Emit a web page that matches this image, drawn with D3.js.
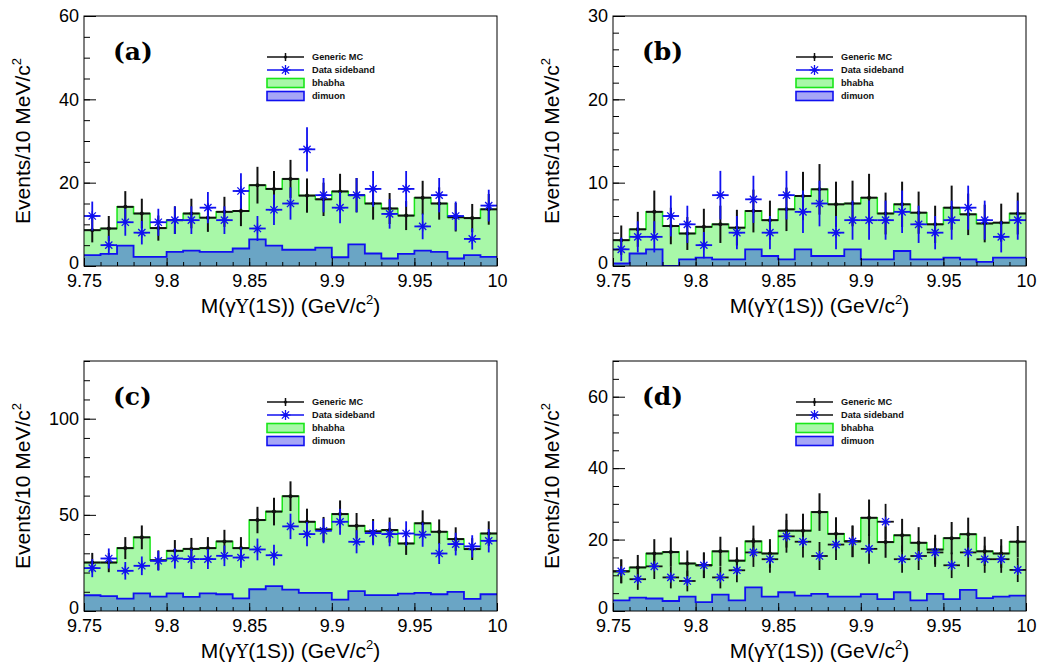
<!DOCTYPE html>
<html>
<head>
<meta charset="utf-8">
<script src="https://cdn.jsdelivr.net/npm/d3@7"></script>
<style>
  body { margin: 0; background: #fff; }
  svg text { font-family: "Liberation Sans", Arial, Helvetica, sans-serif; }
</style>
</head>
<body>
<svg id="chart" width="1038" height="666"></svg>
<script>
// bin edges of M(gamma Y(1S)), 10 MeV bins
var BIN_EDGES = [9.75, 9.76, 9.77, 9.78, 9.79, 9.80, 9.81, 9.82, 9.83, 9.84, 9.85, 9.86, 9.87,
  9.88, 9.89, 9.90, 9.91, 9.92, 9.93, 9.94, 9.95, 9.96, 9.97, 9.98, 9.99, 10.00];
var X_TICKS = [9.75, 9.8, 9.85, 9.9, 9.95, 10];
var X_TICK_LABELS = ['9.75', '9.8', '9.85', '9.9', '9.95', '10'];

var PANEL_LABELS = ['(a)', '(b)', '(c)', '(d)'];
var LEGEND_LABELS = ['Generic MC', 'Data sideband', 'bhabha', 'dimuon'];

// (a)
var MC_A = [8.6, 9.0, 14.2, 12.6, 9.1, 11.0, 12.6, 11.6, 13.0, 13.2, 19.4, 18.5, 20.9, 16.9, 16.0, 17.9, 17.0, 15.0, 13.8, 12.1, 16.4, 15.0, 11.7, 11.5, 13.6];
var DATA_A = [12.0, 5.0, 10.5, 8.0, 10.5, 11.0, 11.0, 14.0, 11.0, 18.0, 9.0, 13.5, 15.0, 28.0, 17.0, 14.0, 17.0, 18.5, 12.5, 18.5, 9.5, 17.0, 12.0, 6.5, 14.5];
var DIMUON_A = [2.6, 2.9, 4.9, 2.2, 2.2, 3.4, 3.7, 3.4, 3.4, 4.2, 6.4, 4.9, 3.9, 3.9, 4.4, 2.1, 5.2, 3.0, 1.8, 2.9, 3.7, 3.4, 1.8, 2.6, 2.2];
var Y_TICKS_A = [0, 20, 40, 60];

// (b)
var MC_B = [3.1, 4.4, 6.5, 4.8, 3.9, 4.7, 5.0, 4.6, 6.6, 5.5, 6.8, 8.4, 9.2, 7.4, 7.5, 8.2, 6.3, 7.4, 6.4, 5.0, 7.0, 6.2, 5.1, 5.2, 6.3];
var DATA_B = [2.0, 3.5, 3.5, 6.0, 5.0, 2.5, 8.5, 4.0, 8.0, 4.0, 8.5, 6.5, 7.5, 4.0, 5.5, 5.5, 5.5, 6.5, 5.0, 4.0, 5.5, 7.0, 5.5, 3.5, 5.5];
var DIMUON_B = [0.3, 1.5, 2.0, 0, 0.8, 1.0, 0.8, 0.8, 2.0, 1.2, 0.8, 2.0, 1.2, 1.2, 2.0, 0.8, 0.8, 1.8, 0.8, 0.8, 1.0, 0.8, 0.5, 1.0, 1.0];
var Y_TICKS_B = [0, 10, 20, 30];

// (c)
var MC_C = [25.2, 25.2, 32.7, 38.3, 26.4, 31.3, 32.3, 32.7, 36.2, 32.7, 47.3, 51.7, 59.7, 46.4, 42.4, 50.4, 44.3, 41.4, 42.1, 35.1, 45.6, 41.2, 37.4, 32.2, 40.3];
var DATA_C = [22.3, 27.3, 20.9, 23.5, 26.1, 27.3, 27.0, 27.0, 28.7, 27.8, 32.0, 29.0, 44.0, 40.0, 41.7, 46.4, 36.0, 40.5, 40.0, 40.3, 39.7, 29.9, 34.8, 33.6, 36.5];
var DIMUON_C = [8.2, 7.7, 6.4, 9.2, 7.5, 9.2, 7.3, 9.2, 8.7, 6.6, 11.3, 12.9, 11.1, 9.4, 9.4, 5.9, 10.3, 8.3, 8.3, 9.0, 9.4, 8.7, 9.9, 6.3, 8.7];
var Y_TICKS_C = [0, 50, 100];

// (d)
var MC_D = [11.1, 12.2, 16.1, 16.5, 13.3, 12.8, 16.7, 14.1, 19.5, 16.1, 22.5, 22.5, 27.7, 21.6, 19.5, 26.1, 19.3, 21.2, 19.1, 17.2, 20.4, 21.5, 16.7, 16.1, 19.4];
var DATA_D = [11.1, 8.9, 12.5, 9.4, 8.4, 12.8, 9.4, 11.4, 16.4, 14.5, 20.9, 19.4, 15.4, 18.6, 19.5, 17.4, 25.0, 14.5, 15.4, 16.4, 12.8, 16.4, 14.5, 14.5, 11.5];
var DIMUON_D = [3.0, 3.75, 3.5, 2.8, 4.0, 2.5, 4.6, 3.0, 6.6, 4.0, 5.25, 4.3, 4.8, 4.0, 4.0, 4.7, 3.3, 5.25, 3.0, 4.8, 3.3, 5.9, 3.6, 4.0, 4.3];
var Y_TICKS_D = [0, 20, 40, 60];

var Y_MAX = [60, 30, 130, 70];
var Y_MINOR_STEP = [5, 2, 10, 5];

var GREEN_FILL = '#a8f8a8';
var GREEN_LINE = '#19e619';
var DIMUON_FILL = '#6aa5c5';
var DIMUON_LEGEND_FILL = '#a6a6f6';
var BLUE = '#1010f0';
var SERIF = '"DejaVu Serif", "Liberation Serif", serif';

var WIDTH = 413;
var HEIGHT = 250;

var panels = [
  { i: 0, left: 84, top: 16, mc: MC_A, data: DATA_A, dimuon: DIMUON_A, yTicks: Y_TICKS_A, dataBar: BLUE },
  { i: 1, left: 613, top: 16, mc: MC_B, data: DATA_B, dimuon: DIMUON_B, yTicks: Y_TICKS_B, dataBar: BLUE },
  { i: 2, left: 84, top: 361, mc: MC_C, data: DATA_C, dimuon: DIMUON_C, yTicks: Y_TICKS_C, dataBar: BLUE },
  { i: 3, left: 613, top: 361, mc: MC_D, data: DATA_D, dimuon: DIMUON_D, yTicks: Y_TICKS_D, dataBar: '#111' }
];

var $svg = d3.select('#chart');

function toBins (values) {
  return values.map(function (v, i) {
    return { x0: BIN_EDGES[i], x1: BIN_EDGES[i + 1], v: v, err: Math.sqrt(v) }; // poisson errors
  });
}

function stepPoints (values) {
  return BIN_EDGES.map(function (e, i) {
    return [e, values[Math.min(i, values.length - 1)]];
  });
}

function drawStar ($g, cx, cy, color) {
  var s = 5;
  var d = s * 0.72;
  var star = $g.append('g').attr('stroke', color).attr('stroke-width', 1.3);
  star.append('line').attr('x1', cx - s).attr('x2', cx + s).attr('y1', cy).attr('y2', cy);
  star.append('line').attr('x1', cx).attr('x2', cx).attr('y1', cy - s).attr('y2', cy + s);
  star.append('line').attr('x1', cx - d).attr('x2', cx + d).attr('y1', cy - d).attr('y2', cy + d);
  star.append('line').attr('x1', cx - d).attr('x2', cx + d).attr('y1', cy + d).attr('y2', cy - d);
  $g.append('circle').attr('cx', cx).attr('cy', cy).attr('r', 2).attr('fill', color);
}

function drawPanel (p) {
  var yMax = Y_MAX[p.i];
  var x = d3.scaleLinear().domain([BIN_EDGES[0], BIN_EDGES[BIN_EDGES.length - 1]]).range([0, WIDTH]);
  var y = d3.scaleLinear().domain([0, yMax]).range([HEIGHT, 0]);
  var clipId = 'clip' + p.i;

  var $g = $svg.append('g').attr('transform', 'translate(' + p.left + ',' + p.top + ')');
  $g.append('clipPath').attr('id', clipId)
    .append('rect').attr('width', WIDTH).attr('height', HEIGHT);
  var $plot = $g.append('g').attr('clip-path', 'url(#' + clipId + ')');

  var area = d3.area().curve(d3.curveStepAfter)
    .x(function (d) { return x(d[0]); })
    .y0(y(0))
    .y1(function (d) { return y(d[1]); });
  var line = d3.line().curve(d3.curveStepAfter)
    .x(function (d) { return x(d[0]); })
    .y(function (d) { return y(d[1]); });

  // stacked histograms: bhabha on top of dimuon
  $plot.append('path').attr('d', area(stepPoints(p.mc))).attr('fill', GREEN_FILL);
  $plot.append('path').attr('d', line(stepPoints(p.mc)))
    .attr('fill', 'none').attr('stroke', GREEN_LINE).attr('stroke-width', 1.5);
  $plot.append('path').attr('d', area(stepPoints(p.dimuon))).attr('fill', DIMUON_FILL);
  $plot.append('path').attr('d', line(stepPoints(p.dimuon)))
    .attr('fill', 'none').attr('stroke', BLUE).attr('stroke-width', 1.8);

  // generic MC points
  var $mc = $plot.append('g').attr('stroke', '#111').attr('stroke-width', 2);
  toBins(p.mc).forEach(function (b) {
    var cx = x((b.x0 + b.x1) / 2);
    $mc.append('line').attr('x1', x(b.x0)).attr('x2', x(b.x1)).attr('y1', y(b.v)).attr('y2', y(b.v));
    $mc.append('line').attr('x1', cx).attr('x2', cx)
      .attr('y1', y(Math.max(0, b.v - b.err))).attr('y2', y(b.v + b.err));
    $mc.append('circle').attr('cx', cx).attr('cy', y(b.v)).attr('r', 2).attr('fill', '#111').attr('stroke', 'none');
  });

  // data sideband points
  var $data = $plot.append('g');
  toBins(p.data).forEach(function (b) {
    var cx = x((b.x0 + b.x1) / 2);
    $data.append('line').attr('x1', x(b.x0)).attr('x2', x(b.x1)).attr('y1', y(b.v)).attr('y2', y(b.v))
      .attr('stroke', p.dataBar).attr('stroke-width', 1.8);
    $data.append('line').attr('x1', cx).attr('x2', cx)
      .attr('y1', y(Math.max(0, b.v - b.err))).attr('y2', y(b.v + b.err))
      .attr('stroke', p.dataBar).attr('stroke-width', 1.8);
    drawStar($data, cx, y(b.v), BLUE);
  });

  // axes, ticks pointing inwards
  var minorY = d3.range(0, yMax + 0.001, Y_MINOR_STEP[p.i]);
  var $xMinor = $g.append('g').attr('transform', 'translate(0,' + HEIGHT + ')')
    .call(d3.axisBottom(x).tickValues(BIN_EDGES).tickSizeInner(-4).tickSizeOuter(0).tickFormat(''));
  var $xMajor = $g.append('g').attr('transform', 'translate(0,' + HEIGHT + ')')
    .call(d3.axisBottom(x).tickValues(X_TICKS).tickSizeInner(-8).tickSizeOuter(0).tickPadding(8)
      .tickFormat(function (d, i) { return X_TICK_LABELS[i]; }));
  var $yMinor = $g.append('g')
    .call(d3.axisLeft(y).tickValues(minorY).tickSizeInner(-6).tickSizeOuter(0).tickFormat(''));
  var $yMajor = $g.append('g')
    .call(d3.axisLeft(y).tickValues(p.yTicks).tickSizeInner(-12).tickSizeOuter(0).tickPadding(5)
      .tickFormat(d3.format('d')));
  [$xMinor, $xMajor, $yMinor, $yMajor].forEach(function ($a) {
    $a.select('.domain').remove();
    $a.selectAll('line').attr('stroke', '#000');
    $a.selectAll('text').attr('font-size', 18).attr('fill', '#000')
      .style('font-family', '"Liberation Sans", Arial, sans-serif');
  });
  // lift the bottom "0" a touch so it clears the x labels
  $yMajor.selectAll('.tick').filter(function (d) { return d === 0; })
    .select('text').attr('dy', '0.12em');

  $g.append('rect').attr('width', WIDTH).attr('height', HEIGHT)
    .attr('fill', 'none').attr('stroke', '#000').attr('stroke-width', 1);

  // axis titles
  var xt = $g.append('text').attr('x', WIDTH / 2).attr('y', HEIGHT + 47)
    .attr('text-anchor', 'middle').attr('font-size', 21).attr('fill', '#000');
  xt.append('tspan').text('M(\u03B3');
  xt.append('tspan').style('font-family', SERIF).attr('font-size', 19).text('\u03A5');
  xt.append('tspan').text('(1S)) (GeV/c');
  xt.append('tspan').attr('font-size', 13).attr('dy', -9).text('2');
  xt.append('tspan').attr('dy', 9).text(')');

  var yt = $g.append('text')
    .attr('transform', 'translate(-54,' + (HEIGHT / 2) + ') rotate(-90)')
    .attr('text-anchor', 'middle').attr('font-size', 21).attr('fill', '#000');
  yt.append('tspan').text('Events/10 MeV/c');
  yt.append('tspan').attr('font-size', 13).attr('dy', -9).text('2');

  // panel label
  $g.append('text').attr('x', 29).attr('y', 44)
    .style('font-family', SERIF).attr('font-weight', 'bold')
    .attr('font-size', 25).attr('fill', '#000').text(PANEL_LABELS[p.i]);

  drawLegend($g, p);
}

function drawLegend ($g, p) {
  var lx0 = 183;
  var lx1 = 220;
  var lcx = (lx0 + lx1) / 2;
  var rows = [41, 54, 67, 80];
  var $leg = $g.append('g');

  $leg.append('line').attr('x1', lx0).attr('x2', lx1).attr('y1', rows[0]).attr('y2', rows[0])
    .attr('stroke', '#111').attr('stroke-width', 1.5);
  $leg.append('line').attr('x1', lcx).attr('x2', lcx).attr('y1', rows[0] - 4).attr('y2', rows[0] + 4)
    .attr('stroke', '#111').attr('stroke-width', 1.5);
  $leg.append('circle').attr('cx', lcx).attr('cy', rows[0]).attr('r', 1.6).attr('fill', '#111');

  $leg.append('line').attr('x1', lx0).attr('x2', lx1).attr('y1', rows[1]).attr('y2', rows[1])
    .attr('stroke', p.dataBar).attr('stroke-width', 1.5);
  drawStar($leg, lcx, rows[1], BLUE);

  $leg.append('rect').attr('x', lx0).attr('y', rows[2] - 4.5).attr('width', lx1 - lx0).attr('height', 9)
    .attr('fill', GREEN_FILL).attr('stroke', GREEN_LINE).attr('stroke-width', 1.6);
  $leg.append('rect').attr('x', lx0).attr('y', rows[3] - 4.5).attr('width', lx1 - lx0).attr('height', 9)
    .attr('fill', DIMUON_LEGEND_FILL).attr('stroke', BLUE).attr('stroke-width', 1.6);

  $leg.selectAll('text.lab')
    .data(LEGEND_LABELS)
    .enter()
      .append('text')
      .attr('class', 'lab')
      .attr('x', 228)
      .attr('y', function (d, i) { return rows[i]; })
      .attr('dy', '0.35em')
      .attr('font-size', 9.2)
      .attr('font-weight', 'bold')
      .attr('fill', '#111')
      .text(function (d) { return d; });
}

panels.forEach(drawPanel);
</script>
</body>
</html>
